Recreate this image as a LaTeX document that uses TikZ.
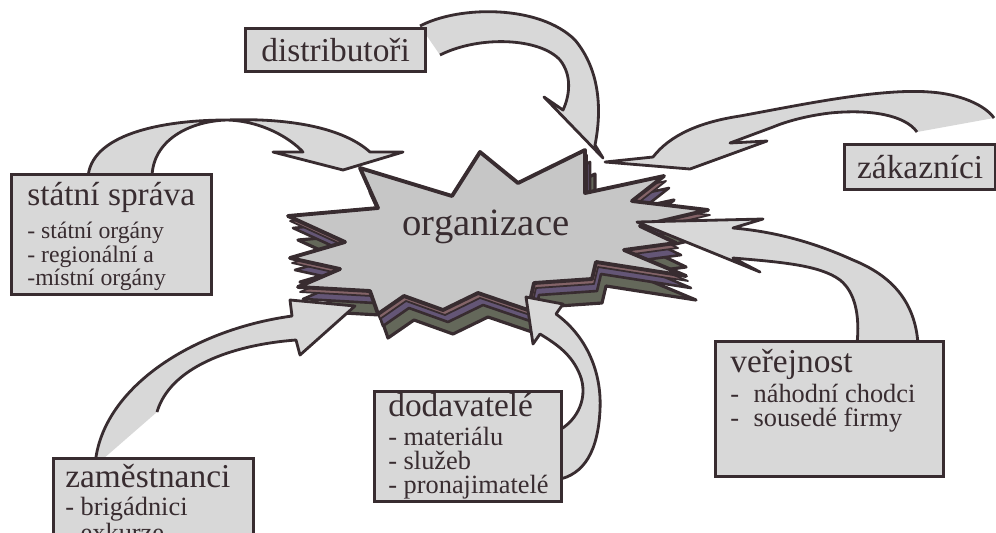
\documentclass[tikz,border=0pt]{standalone}
\usepackage{fontspec}
\setmainfont{Liberation Serif}

\definecolor{ink}{RGB}{56,44,48}
\definecolor{paper}{RGB}{216,216,216}
\definecolor{burst}{RGB}{198,198,198}
\definecolor{shadeolive}{RGB}{100,104,90}
\definecolor{shadeplum}{RGB}{100,86,118}
\definecolor{shaderose}{RGB}{132,100,104}

\newcommand{\orgstar}{(288,216) -- (378,208) -- (360,168) -- (452,196) -- (480,152) -- (518,183) -- (585,150) -- (585,193) -- (664,176) -- (632,201) -- (708,210) -- (640,226) -- (676,243) -- (624,250) -- (686,276) -- (596,262) -- (592,279) -- (534,283) -- (528,310) -- (478,293) -- (443,310) -- (404,296) -- (378,314) -- (370,291) -- (298,287) -- (340,269) -- (290,258) -- (345,242) -- cycle}
\newcommand{\blockarrow}[1]{\fill[arrowbody] #1 -- cycle; \draw[arrowedge] #1;}

\begin{document}
\begin{tikzpicture}[x=0.02cm, y=-0.02cm,
    box/.style={draw=ink, line width=1.9pt, fill=paper, inner sep=0pt, anchor=north west},
    heading/.style={font=\fontsize{19}{22}\selectfont, text=ink, inner sep=0pt, anchor=west, text height=0.75em, text depth=0pt},
    items/.style={font=\fontsize{15}{#1}\selectfont, text=ink, inner sep=0pt, anchor=north west, align=left},
    items/.default=14,
    arrowbody/.style={fill=paper},
    arrowedge/.style={draw=ink, line width=1.6pt, line join=round}]
    \useasboundingbox (0,0) rectangle (996,532);
    \clip (0,0) rectangle (996,532);

    % star with its shadow layers
    \filldraw[shift={(10,24)}, fill=shadeolive, draw=ink, line width=1.8pt, line join=round] \orgstar;
    \filldraw[shift={(5,12)}, fill=shadeplum, draw=ink, line width=1.5pt, line join=round] \orgstar;
    \filldraw[shift={(2,5)}, fill=shaderose, draw=ink, line width=1pt, line join=round] \orgstar;
    \filldraw[fill=burst, draw=ink, line width=2.2pt, line join=round] \orgstar;
    \node[font=\fontsize{22}{24}\selectfont, text=ink] (org) at (486,227) {organizace};

    % arrows
    \blockarrow{(152,178) .. controls (152,140) and (190,121) .. (227,120) .. controls (280,118) and (340,125) .. (370,152) -- (403,152) -- (343,170) -- (273,152) -- (303,152) .. controls (290,138) and (262,121) .. (227,120) .. controls (160,120) and (90,135) .. (88,178)}
    \blockarrow{(440,55) .. controls (480,35) and (540,38) .. (560,60) .. controls (572,75) and (570,95) .. (563,110) -- (544,97) -- (603,158) -- (595,145) .. controls (602,110) and (600,70) .. (575,40) .. controls (540,5) and (460,5) .. (420,26)}
    \blockarrow{(917,132) .. controls (905,115) and (870,109) .. (830,113) .. controls (805,116) and (785,122) .. (773,127) -- (730,143) -- (767,141) -- (690,169) -- (605,162) -- (653,157) .. controls (670,135) and (700,122) .. (740,116) .. controls (800,105) and (880,88) .. (930,92) .. controls (960,94) and (985,105) .. (994,118)}
    \blockarrow{(857,344) .. controls (860,315) and (855,292) .. (840,280) .. controls (820,265) and (780,262) .. (733,258) -- (760,272) -- (637,222) -- (763,219) -- (733,228) .. controls (780,232) and (820,245) .. (853,260) .. controls (890,275) and (915,300) .. (918,344)}
    \blockarrow{(556,432) .. controls (580,420) and (588,395) .. (580,375) .. controls (572,355) and (558,345) .. (540,334) -- (533,344) -- (526,297) -- (563,304) -- (556,314) .. controls (585,335) and (602,370) .. (600,410) .. controls (598,450) and (585,475) .. (556,480)}
    \blockarrow{(157,412) .. controls (170,368) and (230,345) .. (296,340) -- (300,355) -- (355,306) -- (290,300) -- (292,316) .. controls (190,330) and (100,390) .. (95,466)}

    % boxes
    \node[box, minimum width=3.6cm, minimum height=0.86cm, font=\fontsize{19}{22}\selectfont, text=ink] (distr) at (244,27) {distributoři};
    \node[box, minimum width=3.02cm, minimum height=0.9cm, font=\fontsize{19}{22}\selectfont, text=ink] (zakaz) at (843,143) {zákazníci};

    \node[box, minimum width=4cm, minimum height=2.4cm] (statebox) at (10,173) {};
    \node[heading] (statehead) at (27,199) {státní správa};
    \node[items=12, font=\fontsize{13.5}{12}\selectfont] (stateitems) at (27,222) {- státní orgány\\- regionální a\\-místní orgány};

    \node[box, minimum width=4.56cm, minimum height=2.7cm] (verbox) at (714,340) {};
    \node[heading] (verhead) at (730,366) {veřejnost};
    \node[items=13.6] (veritems) at (730,384) {-\hspace{0.55em}náhodní chodci\\-\hspace{0.55em}sousedé firmy};

    \node[box, minimum width=3.74cm, minimum height=2.2cm] (dodbox) at (373,390) {};
    \node[heading] (dodhead) at (388,410) {dodavatelé};
    \node[items=13.6] (doditems) at (388,427) {- materiálu\\- služeb\\- pronajimatelé};

    \node[box, minimum width=4cm, minimum height=1.8cm] (zambox) at (52,457) {};
    \node[heading] (zamhead) at (65,481) {zaměstnanci};
    \node[items=11] (zamitems) at (65,497) {- brigádnici\\- exkurze};
\end{tikzpicture}
\end{document}
